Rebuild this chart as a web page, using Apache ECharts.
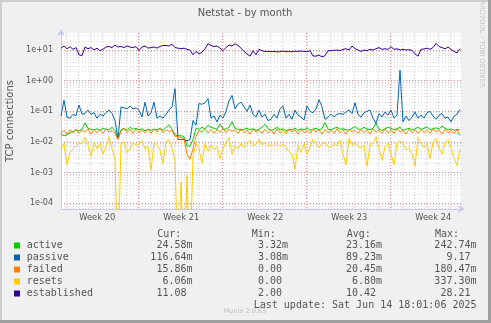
<!DOCTYPE html>
<html><head><meta charset="utf-8">
<script src="https://cdn.jsdelivr.net/npm/echarts@6/dist/echarts.min.js"></script>
<style>html,body{margin:0;padding:0;background:#f0f0f0}#c{width:491px;height:323px}</style>
</head><body><div id="c"></div>
<script>
// ---- data (one sample every 0.25 day = 6h) ----
const STEP_DAYS = 0.25;
const seriesNames = ['active', 'passive', 'failed', 'resets', 'established'];
const seriesColors = ['#00CC00', '#0066B3', '#FF8000', '#FFCC00', '#330099'];
const active = [0.018,0.016,0.017,0.02,0.022,0.025,0.023,0.026,0.042,0.028,
 0.026,0.025,0.027,0.024,0.028,0.026,0.025,0.03,0.024,0.013,
 0.025,0.028,0.024,0.03,0.026,0.028,0.025,0.027,0.023,0.026,
 0.024,0.026,0.025,0.028,0.024,0.03,0.036,0.026,0.017,0.016,
 0.016,0.015,0.0075,0.0072,0.012,0.028,0.026,0.03,0.027,0.035,
 0.03,0.028,0.026,0.038,0.027,0.026,0.03,0.046,0.028,0.026,
 0.024,0.026,0.028,0.025,0.027,0.024,0.026,0.03,0.038,0.027,
 0.024,0.026,0.03,0.025,0.027,0.023,0.026,0.025,0.028,0.024,
 0.027,0.025,0.029,0.024,0.026,0.028,0.025,0.027,0.043,0.026,
 0.025,0.028,0.03,0.026,0.027,0.025,0.024,0.028,0.032,0.026,
 0.026,0.03,0.027,0.025,0.028,0.04,0.026,0.024,0.027,0.03,
 0.028,0.025,0.027,0.03,0.024,0.026,0.028,0.025,0.027,0.03,
 0.026,0.028,0.031,0.025,0.027,0.029,0.026,0.033,0.028,0.025,0.027,0.024,0.026,0.0246];
const passive = [0.07,0.23,0.065,0.06,0.08,0.072,0.16,0.08,0.085,0.11,
 0.08,0.09,0.06,0.08,0.07,0.09,0.11,0.085,0.05,0.013,
 0.14,0.13,0.12,0.15,0.12,0.13,0.11,0.065,0.2,0.07,
 0.09,0.2,0.06,0.07,0.06,0.08,0.11,0.14,0.55,0.012,
 0.012,0.012,0.011,0.012,0.05,0.035,0.18,0.17,0.19,0.26,
 0.06,0.07,0.045,0.075,0.06,0.1,0.22,0.33,0.12,0.17,
 0.2,0.14,0.1,0.16,0.08,0.065,0.11,0.065,0.08,0.05,
 0.055,0.08,0.06,0.12,0.15,0.06,0.08,0.055,0.11,0.075,
 0.065,0.052,0.15,0.1,0.09,0.12,0.24,0.14,0.055,0.065,
 0.08,0.065,0.08,0.085,0.08,0.095,0.11,0.085,0.19,0.08,
 0.064,0.09,0.1,0.11,0.06,0.04,0.085,0.065,0.095,0.075,
 0.11,0.06,0.075,2.2,0.045,0.07,0.05,0.065,0.095,0.06,
 0.075,0.06,0.09,0.1,0.07,0.055,0.075,0.085,0.06,0.065,0.045,0.07,0.08,0.1166];
const failed = [0.019,0.024,0.018,0.025,0.02,0.026,0.019,0.024,0.021,0.027,
 0.018,0.026,0.02,0.025,0.019,0.027,0.021,0.024,0.019,0.012,
 0.022,0.028,0.02,0.026,0.019,0.027,0.021,0.025,0.02,0.026,
 0.019,0.027,0.021,0.028,0.02,0.025,0.022,0.024,0.015,0.015,
 0.014,0.013,0.004,0.0027,0.006,0.015,0.024,0.021,0.027,0.02,
 0.026,0.019,0.025,0.021,0.028,0.02,0.026,0.022,0.025,0.019,
 0.027,0.02,0.025,0.018,0.026,0.021,0.024,0.019,0.026,0.02,
 0.025,0.018,0.027,0.02,0.024,0.019,0.026,0.021,0.025,0.018,
 0.026,0.02,0.024,0.019,0.027,0.021,0.025,0.018,0.026,0.02,
 0.024,0.019,0.027,0.02,0.025,0.018,0.026,0.021,0.024,0.019,
 0.026,0.02,0.025,0.018,0.027,0.021,0.024,0.019,0.026,0.02,
 0.025,0.019,0.027,0.021,0.024,0.018,0.026,0.02,0.025,0.019,
 0.026,0.02,0.024,0.019,0.027,0.021,0.025,0.018,0.026,0.02,0.024,0.019,0.025,0.0159];
const resets = [0.0056,0.009,0.0018,0.0045,0.006,0.0072,0.0095,0.0085,0.014,0.008,
 0.0034,0.01,0.006,0.009,0.004,0.0075,0.015,0.006,0.003,0,
 0.009,0.01,0.0045,0.006,0.0095,0.008,0.0085,0.011,0.006,0.007,
 0.0012,0.0095,0.008,0.0055,0.002,0.01,0.012,0.006,0.0025,0,
 0.0005,0,0.0008,0,0.0035,0.009,0.006,0.002,0.009,0.005,
 0.008,0.0055,0.007,0.0028,0.006,0.0095,0.014,0.004,0.0075,0.006,
 0.009,0.0065,0.0095,0.011,0.0075,0.0085,0.012,0.008,0.0095,0.0075,
 0.008,0.0075,0.009,0.007,0.0085,0.0065,0.005,0.004,0.0013,0.008,
 0.0045,0.009,0.004,0.007,0.012,0.009,0.0065,0.009,0.0095,0.007,
 0.0065,0.009,0.0075,0.0115,0.004,0.0018,0.0135,0.008,0.0095,0.007,
 0.0065,0.008,0.0016,0.008,0.009,0.015,0.006,0.0025,0.007,0.009,
 0.004,0.0018,0.0095,0.0105,0.0085,0.0055,0.0065,0.004,0.0016,0.014,
 0.009,0.0065,0.009,0.0028,0.01,0.013,0.0065,0.004,0.0095,0.012,0.0065,0.003,0.0017,0.00606];
const established = [11.4,13.5,11.0,12.8,10.5,12.0,7.0,6.6,12.5,11.0,
 12.0,10.0,11.5,9.5,10.5,12.5,13.0,12.0,14.5,12.5,
 13.0,12.0,13.5,12.5,12.0,13.0,9.5,12.5,13.5,11.5,
 12.0,12.5,11.5,13.0,14.0,14.0,13.5,15.5,12.0,11.5,
 11.0,11.5,10.5,10.0,7.0,9.0,7.5,8.5,11.0,16.0,
 14.0,13.0,13.5,11.5,9.5,12.0,14.5,13.5,16.0,14.0,
 11.5,9.0,7.5,6.3,9.5,7.0,10.5,9.5,9.0,9.0,
 8.8,9.0,8.7,8.8,9.2,8.8,9.0,8.7,9.2,9.0,
 9.3,9.0,8.8,9.5,6.4,6.3,6.8,6.0,6.5,9.5,
 9.5,9.8,10.0,9.5,10.5,11.0,10.0,13.5,11.0,10.0,
 9.0,10.0,9.5,10.5,10.0,11.0,12.0,10.5,11.0,10.5,
 12.8,10.5,11.0,10.0,10.5,10.0,10.2,9.8,7.5,6.3,
 10.5,10.8,11.5,10.5,12.0,16.5,13.0,12.0,11.0,12.5,10.5,9.0,8.0,11.08];
const seriesData = [active, passive, failed, resets, established];

const weekLabels = ['Week 20', 'Week 21', 'Week 22', 'Week 23', 'Week 24'];
const yTickValues = [1e-4, 1e-3, 1e-2, 1e-1, 1, 10];
const yTickLabels = ['1e-04', '1e-03', '1e-02', '1e-01', '1e+00', '1e+01'];

const legendHeaders = ['Cur:', 'Min:', 'Avg:', 'Max:'];
const curVals = ['24.58m', '116.64m', '15.86m', '6.06m', '11.08 '];
const minVals = ['3.32m', '3.08m', '0.00 ', '0.00 ', '2.00 '];
const avgVals = ['23.16m', '89.23m', '20.45m', '6.80m', '10.42 '];
const maxVals = ['242.74m', '9.17 ', '180.47m', '337.30m', '28.21 '];
const titleText = 'Netstat - by month';
const yAxisTitle = 'TCP connections';
const lastUpdate = 'Last update: Sat Jun 14 18:01:06 2025';
const muninVersion = 'Munin 2.0.63';
const watermark = 'RRDTOOL / TOBI OETIKER';

// ---- scale setup ----
const X_MAX = 33.333;          // days shown (400 px at 2h per px)
const FIRST_MIDNIGHT = 0.44;   // days from left edge to first midnight
const FIRST_WEEK = 6.44;       // days from left edge to first Monday 00:00
const YMIN = 6.52e-5, YMAX = 35.86;
const LOG_FLOOR = 1e-6;        // zero values drawn to the bottom like rrdtool

const dayTicks = [];
for (let d = FIRST_MIDNIGHT; d < X_MAX; d += 1) dayTicks.push(+d.toFixed(3));
const weekTicks = [];
for (let d = FIRST_WEEK; d < X_MAX; d += 7) weekTicks.push(+d.toFixed(3));
const weekLabelPos = weekLabels.map((_, k) => +(FIRST_WEEK - 3.42 + 7 * k).toFixed(3));
const minorY = [];
for (let e = -5; e <= 1; e++) for (let m = 2; m <= 9; m++) {
  const v = m * Math.pow(10, e);
  if (v > YMIN && v < YMAX) minorY.push(+v.toPrecision(3));
}

const toPts = arr => arr.map((v, i) => [+(i * STEP_DAYS).toFixed(3), v > 0 ? v : LOG_FLOOR]);

const AXIS_COL = '#c8c8f4';
const TXT = '#555';
const chart = echarts.init(document.getElementById('c'), null, { renderer: 'canvas' });

const graphics = [
  { type: 'rect', shape: { x: 0, y: 0, width: 491, height: 2 }, style: { fill: '#cecece' }, silent: true },
  { type: 'rect', shape: { x: 0, y: 0, width: 2, height: 323 }, style: { fill: '#cecece' }, silent: true },
  { type: 'rect', shape: { x: 488, y: 0, width: 3, height: 323 }, style: { fill: '#9e9e9e' }, silent: true },
  { type: 'rect', shape: { x: 0, y: 320, width: 491, height: 3 }, style: { fill: '#9e9e9e' }, silent: true },
  { type: 'text', x: 245, y: 13, style: { text: titleText, font: '10px "DejaVu Sans"', fill: TXT, textAlign: 'center', textVerticalAlign: 'middle', align: 'center', verticalAlign: 'middle' } },
  { type: 'text', x: 10, y: 121, rotation: Math.PI / 2, style: { text: yAxisTitle, font: '10px "DejaVu Sans"', fill: TXT, textAlign: 'center', textVerticalAlign: 'middle', align: 'center', verticalAlign: 'middle' } },
  { type: 'text', x: 482, y: 44, rotation: -Math.PI / 2, style: { text: watermark, font: '6.8px "DejaVu Sans"', fill: '#c4c4c4', textAlign: 'center', textVerticalAlign: 'middle', align: 'center', verticalAlign: 'middle' } },
  { type: 'text', x: 245, y: 311.5, style: { text: muninVersion, font: '6.5px "DejaVu Sans"', fill: '#bdbdbd', textAlign: 'center', textVerticalAlign: 'middle', align: 'center', verticalAlign: 'middle' } },
];
const MONO = '10px "DejaVu Sans Mono"';
const headerX = [157.3, 251.7, 346.7, 435];
legendHeaders.forEach((h, k) => graphics.push({ type: 'text', x: headerX[k], y: 234, style: { text: h, font: MONO, fill: TXT, textAlign: 'left', textVerticalAlign: 'middle', align: 'left', verticalAlign: 'middle' } }));
const colRight = [192.5, 288, 382, 476.5];
const cols = [curVals, minVals, avgVals, maxVals];
seriesNames.forEach((n, r) => {
  const y = 245.5 + 12 * r;
  graphics.push({ type: 'rect', shape: { x: 14, y: y - 3, width: 6, height: 6 }, style: { fill: seriesColors[r] }, silent: true });
  graphics.push({ type: 'text', x: 26.7, y, style: { text: n, font: MONO, fill: TXT, textAlign: 'left', textVerticalAlign: 'middle', align: 'left', verticalAlign: 'middle' } });
  cols.forEach((c, k) => graphics.push({ type: 'text', x: colRight[k], y, style: { text: c[r], font: MONO, fill: TXT, textAlign: 'right', textVerticalAlign: 'middle', align: 'right', verticalAlign: 'middle' } }));
});
graphics.push({ type: 'text', x: 476.5, y: 305.5, style: { text: lastUpdate, font: MONO, fill: TXT, textAlign: 'right', textVerticalAlign: 'middle', align: 'right', verticalAlign: 'middle' } });

chart.setOption({
  animation: false,
  backgroundColor: '#f0f0f0',
  grid: { left: 61, right: 30, top: 33, bottom: 114, show: true, backgroundColor: '#ffffff', borderWidth: 0, containLabel: false },
  xAxis: [
    {
      type: 'value', min: 0, max: X_MAX, position: 'bottom',
      axisLine: { show: true, onZero: false, lineStyle: { color: AXIS_COL, width: 1 }, symbol: ['none', 'arrow'], symbolSize: [6, 7], symbolOffset: [0, 4] },
      axisTick: { show: false, customValues: dayTicks },
      axisLabel: { show: true, customValues: weekLabelPos, margin: 5, fontSize: 8.3, fontFamily: 'DejaVu Sans', color: TXT,
        formatter: v => weekLabels[Math.round((v - weekLabelPos[0]) / 7)] || '' },
      splitLine: { show: true, lineStyle: { color: '#cdcdcd', width: 1, type: [1, 2] } }
    },
    {
      type: 'value', min: 0, max: X_MAX, position: 'bottom',
      axisLine: { show: false }, axisLabel: { show: false },
      axisTick: { show: false, customValues: weekTicks },
      splitLine: { show: true, lineStyle: { color: '#f08080', width: 1, type: [1, 2] } }
    }
  ],
  yAxis: [
    {
      type: 'log', logBase: 10, min: YMIN, max: YMAX, position: 'left',
      axisLine: { show: false }, axisLabel: { show: false },
      axisTick: { show: false, customValues: minorY },
      splitLine: { show: true, lineStyle: { color: '#d9d9d9', width: 1, type: [1, 2] } }
    },
    {
      type: 'log', logBase: 10, min: YMIN, max: YMAX, position: 'left',
      axisLine: { show: true, onZero: false, lineStyle: { color: AXIS_COL, width: 1 }, symbol: ['none', 'arrow'], symbolSize: [6, 7], symbolOffset: [0, 4] },
      axisTick: { show: false, customValues: yTickValues },
      axisLabel: { show: true, customValues: yTickValues, margin: 8, fontSize: 8, fontFamily: 'DejaVu Sans', color: TXT,
        formatter: v => yTickLabels[Math.round(Math.log10(v)) + 4] || '' },
      splitLine: { show: true, lineStyle: { color: '#f08080', width: 1, type: [1, 2] } }
    }
  ],
  series: seriesNames.map((n, k) => ({
    name: n, type: 'line', xAxisIndex: 0, yAxisIndex: 1,
    data: toPts(seriesData[k]),
    symbol: 'none', showSymbol: false, smooth: false, clip: true, z: 3 + k,
    lineStyle: { width: 1, color: seriesColors[k] }, itemStyle: { color: seriesColors[k] }
  })),
  graphic: graphics
});
</script>
</body></html>
